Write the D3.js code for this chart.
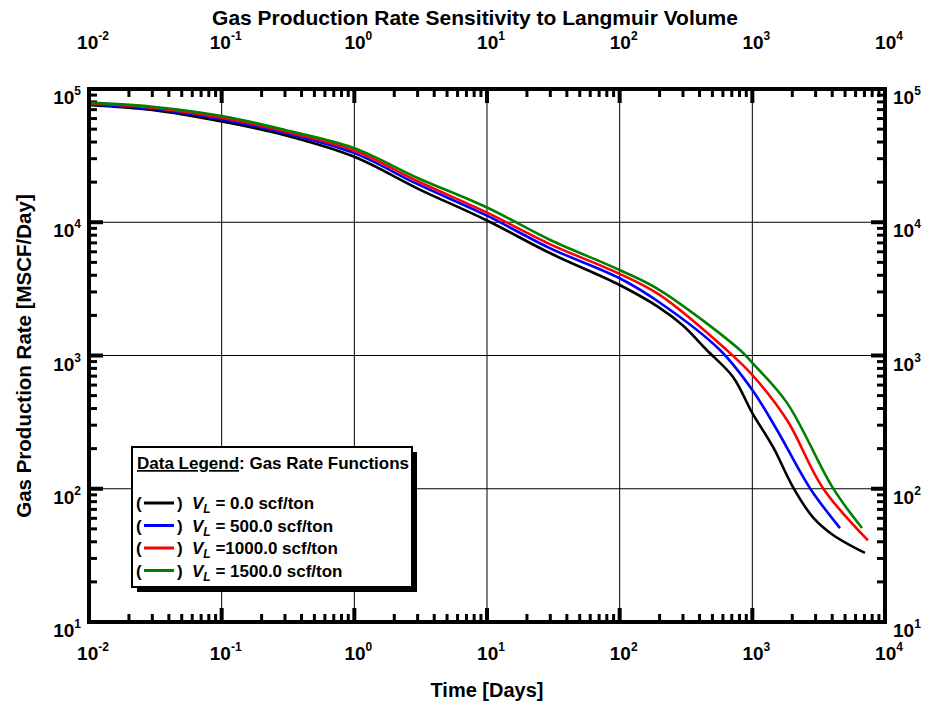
<!DOCTYPE html>
<html lang="en">
<head>
  <meta charset="UTF-8">
  <title>Gas Production Rate Sensitivity to Langmuir Volume</title>
  <script src="https://d3js.org/d3.v7.min.js"></script>
  <style>
    body { margin: 0; background: white; font-family: "Liberation Sans", Arial, sans-serif; }
    .grid { stroke: #000; stroke-width: 1px; }
    .tick { stroke: #000; }
    .curve { fill: none; stroke-width: 2.6px; }
    text { font-weight: bold; fill: #000; }
  </style>
</head>
<body>
<svg id="chart" width="930" height="704"></svg>
<script>
// decade labels on both axes
const xDecades = [-2, -1, 0, 1, 2, 3, 4];
const yDecades = [1, 2, 3, 4, 5];

// series: time [days] and gas rate [MSCF/day]
const vl0Time = [0.01, 0.03, 0.1, 0.3, 1, 3, 10, 30, 100, 200, 300, 453, 715, 1000, 1432, 2024, 2865, 4055, 7060];
const vl0Rate = [76000, 69500, 57000, 45000, 31000, 17900, 10300, 5850, 3380, 2280, 1680, 1100, 690, 370, 206, 103, 61, 45, 33];

const vl500Time = [0.01, 0.03, 0.1, 0.3, 1, 3, 10, 30, 100, 200, 570, 1000, 1535, 2720, 4580];
const vl500Rate = [76500, 71000, 59000, 46800, 33000, 19300, 11200, 6370, 3800, 2500, 1100, 551, 276, 101, 50.7];

const vl1000Time = [0.01, 0.03, 0.1, 0.3, 1, 3, 10, 30, 100, 200, 640, 1000, 1825, 3410, 7440];
const vl1000Rate = [78000, 72500, 61000, 48000, 34500, 20300, 11800, 6830, 4100, 2850, 1100, 714, 328, 101, 41];

const vl1500Time = [0.01, 0.03, 0.1, 0.3, 1, 3, 10, 30, 100, 200, 807, 1000, 1825, 4055, 6710];
const vl1500Rate = [79000, 73600, 62700, 49300, 36000, 21500, 12900, 7360, 4380, 3100, 1100, 880, 441, 101, 50.7];

const seriesNames = [" = 0.0 scf/ton", " = 500.0 scf/ton", " =1000.0 scf/ton", " = 1500.0 scf/ton"];
const seriesColors = ["#000000", "#0000ff", "#ff0000", "#008000"];

const series = [
  {t: vl0Time, q: vl0Rate},
  {t: vl500Time, q: vl500Rate},
  {t: vl1000Time, q: vl1000Rate},
  {t: vl1500Time, q: vl1500Rate}
].map((s, i) => ({
  name: seriesNames[i],
  color: seriesColors[i],
  points: s.t.map((t, j) => ({t: t, q: s.q[j]}))
}));

// layout (window.top is taken, so plot* names)
const plotLeft = 89, plotTop = 89, plotRight = 885, plotBottom = 622;
const svg = d3.select("#chart");

const x = d3.scaleLog().domain([1e-2, 1e4]).range([plotLeft, plotRight]);
const y = d3.scaleLog().domain([1e1, 1e5]).range([plotBottom, plotTop]);

// minor tick values 2..9 per decade
const xMinor = [], yMinor = [];
xDecades.slice(0, -1).forEach(d => { for (let k = 2; k <= 9; k++) xMinor.push(k * Math.pow(10, d)); });
yDecades.slice(0, -1).forEach(d => { for (let k = 2; k <= 9; k++) yMinor.push(k * Math.pow(10, d)); });

// grid lines at decades
svg.append("g").selectAll("line")
  .data(xDecades.slice(1, -1))
  .join("line").attr("class", "grid")
  .attr("x1", d => x(Math.pow(10, d))).attr("x2", d => x(Math.pow(10, d)))
  .attr("y1", plotTop).attr("y2", plotBottom);
svg.append("g").selectAll("line")
  .data(yDecades.slice(1, -1))
  .join("line").attr("class", "grid")
  .attr("y1", d => y(Math.pow(10, d))).attr("y2", d => y(Math.pow(10, d)))
  .attr("x1", plotLeft).attr("x2", plotRight);

// inward ticks on all four sides
const ticks = svg.append("g");
function xTicks(vals, len, w) {
  ticks.append("g").selectAll("line").data(vals).join("line").attr("class", "tick")
    .attr("stroke-width", w)
    .attr("x1", d => x(d)).attr("x2", d => x(d)).attr("y1", plotBottom).attr("y2", plotBottom - len);
  ticks.append("g").selectAll("line").data(vals).join("line").attr("class", "tick")
    .attr("stroke-width", w)
    .attr("x1", d => x(d)).attr("x2", d => x(d)).attr("y1", plotTop).attr("y2", plotTop + len);
}
function yTicks(vals, len, w) {
  ticks.append("g").selectAll("line").data(vals).join("line").attr("class", "tick")
    .attr("stroke-width", w)
    .attr("y1", d => y(d)).attr("y2", d => y(d)).attr("x1", plotLeft).attr("x2", plotLeft + len);
  ticks.append("g").selectAll("line").data(vals).join("line").attr("class", "tick")
    .attr("stroke-width", w)
    .attr("y1", d => y(d)).attr("y2", d => y(d)).attr("x1", plotRight).attr("x2", plotRight - len);
}
xTicks(xMinor, 8, 3);
yTicks(yMinor, 8, 3);
xTicks(xDecades.map(d => Math.pow(10, d)), 14, 4);
yTicks(yDecades.map(d => Math.pow(10, d)), 14, 4);

// curves
const line = d3.line()
  .x(d => x(d.t)).y(d => y(d.q))
  .curve(d3.curveCatmullRom.alpha(0.5));
svg.append("g").selectAll("path")
  .data(series)
  .join("path").attr("class", "curve")
  .attr("stroke", d => d.color)
  .attr("d", d => line(d.points));

// frame
svg.append("rect")
  .attr("x", plotLeft).attr("y", plotTop)
  .attr("width", plotRight - plotLeft).attr("height", plotBottom - plotTop)
  .attr("fill", "none").attr("stroke", "#000").attr("stroke-width", 4);

// tick labels "10^n"
function powLabel(g, d, px, py, anchor) {
  const t = g.append("text").attr("x", px).attr("y", py)
    .attr("text-anchor", anchor).style("font-size", "19px");
  t.append("tspan").text("10");
  t.append("tspan").attr("dy", -9).style("font-size", "12px").text(d);
  return t;
}
const labels = svg.append("g");
xDecades.forEach(d => {
  powLabel(labels, d, x(Math.pow(10, d)) + 4, 49, "middle");
  powLabel(labels, d, x(Math.pow(10, d)) + 4, 660, "middle");
});
yDecades.forEach(d => {
  powLabel(labels, d, plotLeft - 8, y(Math.pow(10, d)) + 15, "end");
  powLabel(labels, d, plotRight + 8, y(Math.pow(10, d)) + 15, "start");
});

// titles
svg.append("text").attr("x", 475).attr("y", 25).attr("text-anchor", "middle")
  .style("font-size", "21px").text("Gas Production Rate Sensitivity to Langmuir Volume");
svg.append("text").attr("x", 487).attr("y", 697).attr("text-anchor", "middle")
  .style("font-size", "20px").text("Time [Days]");
svg.append("text").attr("transform", "translate(31,356) rotate(-90)").attr("text-anchor", "middle")
  .style("font-size", "20.5px").text("Gas Production Rate [MSCF/Day]");

// legend box with drop shadow
const lg = svg.append("g").attr("transform", "translate(132,447)");
const lw = 280, lh = 140;
lg.append("rect").attr("x", 5).attr("y", 5).attr("width", lw).attr("height", lh).attr("fill", "#000");
lg.append("rect").attr("x", 0).attr("y", 0).attr("width", lw).attr("height", lh)
  .attr("fill", "#fff").attr("stroke", "#000").attr("stroke-width", 2);
const head = lg.append("text").attr("x", 5).attr("y", 22).style("font-size", "17px");
head.append("tspan").attr("text-decoration", "underline").text("Data Legend");
head.append("tspan").text(": Gas Rate Functions");

const entry = lg.selectAll("g.entry").data(series).join("g").attr("class", "entry")
  .attr("transform", (d, i) => `translate(0,${62 + i * 22.5})`);
entry.append("text").attr("x", 4).attr("y", 0).style("font-size", "17px").text("(");
entry.append("line").attr("x1", 12).attr("x2", 42).attr("y1", -6).attr("y2", -6)
  .attr("stroke", d => d.color).attr("stroke-width", 3);
entry.append("text").attr("x", 45).attr("y", 0).style("font-size", "17px").text(")");
const lab = entry.append("text").attr("x", 60).attr("y", 0).style("font-size", "17px");
lab.append("tspan").style("font-style", "italic").text("V");
lab.append("tspan").attr("dy", 4).style("font-style", "italic").style("font-size", "12px").text("L");
lab.append("tspan").attr("dy", -4).text(d => d.name);
</script>
</body>
</html>
